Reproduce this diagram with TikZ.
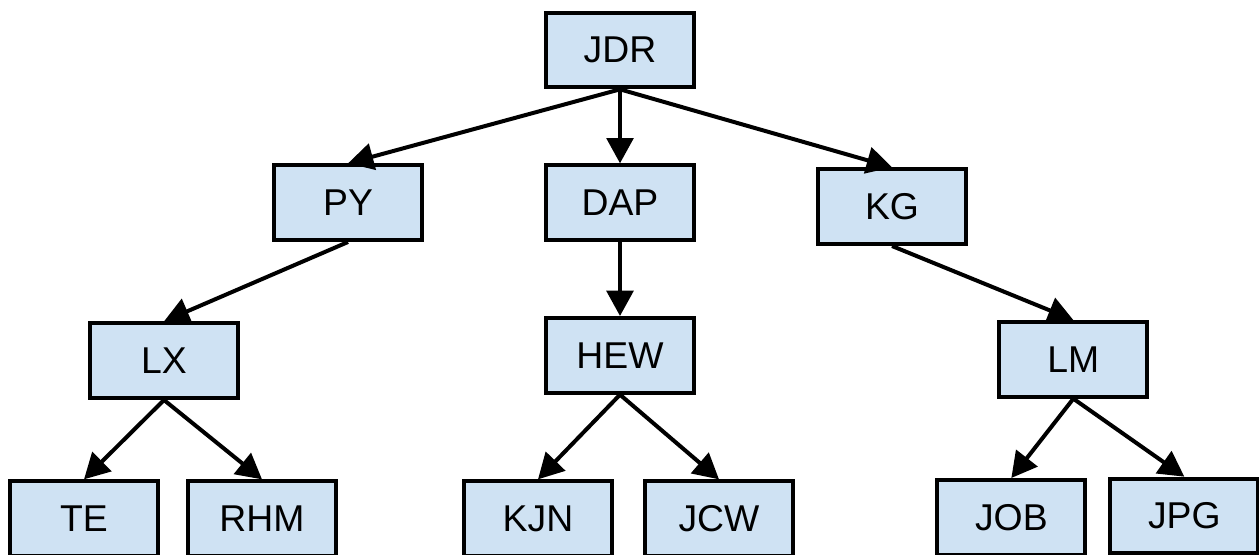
\documentclass[tikz,border=0pt]{standalone}
\usepackage{fontspec}
\setmainfont{Liberation Sans}
\usetikzlibrary{arrows.meta, positioning}
\definecolor{boxblue}{HTML}{CFE2F3}
\tikzset{
person/.style={
    rectangle,
    draw=black,
    fill=boxblue,
    line width=3pt,
    minimum width=111pt,
    minimum height=56pt,
    inner sep=0pt,
    font=\fontsize{28}{32}\selectfont
}}

\begin{document}
\begin{tikzpicture}[
        >={Triangle[length=19pt, width=20pt]},
        node distance=55.5pt and 90pt
    ]
    \useasboundingbox (0,0) rectangle (944.25pt,-415.5pt);

    % node placement
    \node[person] (JDR) at (465pt,-37.5pt) {JDR};
    \node[person, below=of JDR] (DAP) {DAP};
    \node[person, left=of DAP] (PY) {PY};
    \node[person, right=of DAP, yshift=-3pt] (KG) {KG};

    \node[person, below=of PY, xshift=-138pt, yshift=-4pt] (LX) {LX};
    \node[person, below=of DAP] (HEW) {HEW};
    \node[person, below=of KG, xshift=136pt] (LM) {LM};

    \node[person, below=of LX, xshift=-60pt, yshift=-4pt] (TE) {TE};
    \node[person, below=of LX, xshift=73.5pt, yshift=-4pt] (RHM) {RHM};
    \node[person, below=of HEW, xshift=-61.5pt, yshift=-8pt] (KJN) {KJN};
    \node[person, below=of HEW, xshift=74.25pt, yshift=-8pt] (JCW) {JCW};
    \node[person, below=of LM, xshift=-46.5pt, yshift=-4pt] (JOB) {JOB};
    \node[person, below=of LM, xshift=83.25pt, yshift=-3pt] (JPG) {JPG};

    % edges
    \draw[->, line width=3pt] (JDR.south) -- (PY.north);
    \draw[->, line width=3pt] (JDR.south) -- (DAP.north);
    \draw[->, line width=3pt] (JDR.south) -- (KG.north);
    \draw[->, line width=3pt] (PY.south) -- (LX.north);
    \draw[->, line width=3pt] (DAP.south) -- (HEW.north);
    \draw[->, line width=3pt] (KG.south) -- (LM.north);
    \draw[->, line width=3pt] (LX.south) -- (TE.north);
    \draw[->, line width=3pt] (LX.south) -- (RHM.north);
    \draw[->, line width=3pt] (HEW.south) -- (KJN.north);
    \draw[->, line width=3pt] (HEW.south) -- (JCW.north);
    \draw[->, line width=3pt] (LM.south) -- (JOB.north);
    \draw[->, line width=3pt] (LM.south) -- (JPG.north);

\end{tikzpicture}
\end{document}
